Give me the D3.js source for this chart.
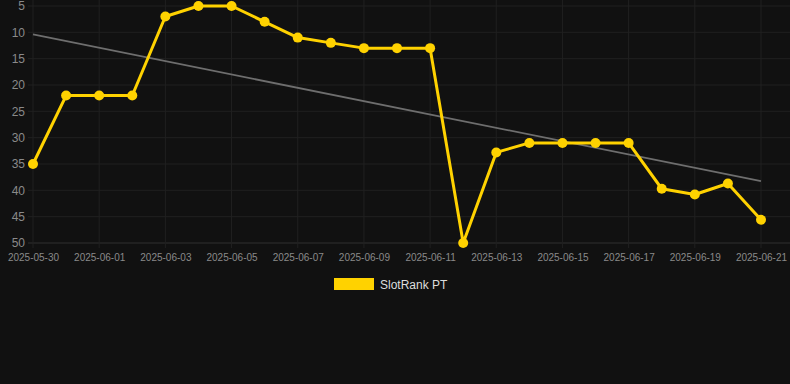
<!DOCTYPE html>
<html>
<head>
<meta charset="utf-8">
<script src="https://cdn.jsdelivr.net/npm/d3@7"></script>
<style>
  html, body { margin: 0; padding: 0; background: #111111; }
  svg { display: block; font-family: "Liberation Sans", Arial, sans-serif; }
</style>
</head>
<body>
<svg id="chart"></svg>
<script>
const dates = [
  "2025-05-30", "2025-05-31", "2025-06-01", "2025-06-02", "2025-06-03", "2025-06-04",
  "2025-06-05", "2025-06-06", "2025-06-07", "2025-06-08", "2025-06-09", "2025-06-10",
  "2025-06-11", "2025-06-12", "2025-06-13", "2025-06-14", "2025-06-15", "2025-06-16",
  "2025-06-17", "2025-06-18", "2025-06-19", "2025-06-20", "2025-06-21"
];
const ranks = [35, 22, 22, 22, 7, 5, 5, 8, 11, 12, 13, 13, 13, 50, 32.8, 31, 31, 31, 31, 39.7, 40.8, 38.7, 45.6];
const yTicks = [5, 10, 15, 20, 25, 30, 35, 40, 45, 50];
const seriesName = "SlotRank PT";

const width = 790;
const height = 384;
const margin = { top: 6, right: 29, bottom: 141, left: 33 };

const parse = d3.utcParse("%Y-%m-%d");
const data = dates.map((d, i) => ({ date: parse(d), y: ranks[i] }));

const svg = d3.select("#chart").attr("width", width).attr("height", height);

const x = d3
  .scaleUtc()
  .domain(d3.extent(data, (d) => d.date))
  .range([margin.left, width - margin.right]);

const y = d3
  .scaleLinear()
  .domain([5, 50])
  .range([margin.top, height - margin.bottom]);

const xTicks = data.filter((d, i) => i % 2 === 0).map((d) => d.date);

// grid
svg
  .append("g")
  .selectAll("line")
  .data(yTicks)
  .join("line")
  .attr("x1", margin.left - 5)
  .attr("x2", width)
  .attr("y1", (d) => y(d))
  .attr("y2", (d) => y(d))
  .attr("stroke", (d) => (d === 50 ? "#303030" : "#202020"))
  .attr("stroke-width", 1);

svg
  .append("g")
  .selectAll("line")
  .data(xTicks)
  .join("line")
  .attr("x1", (d) => x(d))
  .attr("x2", (d) => x(d))
  .attr("y1", 0)
  .attr("y2", height - margin.bottom + 5)
  .attr("stroke", "#202020")
  .attr("stroke-width", 1);

// y axis
const yAxis = svg
  .append("g")
  .attr("transform", `translate(${margin.left - 8},0)`)
  .call(d3.axisLeft(y).tickValues(yTicks).tickSize(0).tickPadding(0));
yAxis.select(".domain").remove();
yAxis.selectAll("text").attr("fill", "#8a8a8a").attr("font-size", 12);

// x axis
const xAxis = svg
  .append("g")
  .attr("transform", `translate(0,${height - margin.bottom})`)
  .call(
    d3.axisBottom(x).tickValues(xTicks).tickFormat(d3.utcFormat("%Y-%m-%d")).tickSize(0).tickPadding(11)
  );
xAxis.select(".domain").remove();
xAxis.selectAll("text").attr("fill", "#8a8a8a").attr("font-size", 10);

// trend line (least squares over the series)
const n = ranks.length;
const xm = d3.mean(ranks, (d, i) => i);
const ym = d3.mean(ranks);
const slope =
  d3.sum(ranks, (d, i) => (i - xm) * (d - ym)) / d3.sum(ranks, (d, i) => (i - xm) * (i - xm));
const icpt = ym - slope * xm;
const trend = [
  { date: data[0].date, y: icpt },
  { date: data[n - 1].date, y: icpt + slope * (n - 1) }
];
svg
  .append("path")
  .datum(trend)
  .attr("fill", "none")
  .attr("stroke", "#6e6e6e")
  .attr("stroke-width", 1.8)
  .attr("d", d3.line().x((d) => x(d.date)).y((d) => y(d.y)));

// series line
svg
  .append("path")
  .datum(data)
  .attr("fill", "none")
  .attr("stroke", "#FFD200")
  .attr("stroke-width", 3)
  .attr("stroke-linejoin", "round")
  .attr("d", d3.line().x((d) => x(d.date)).y((d) => y(d.y)));

svg
  .append("g")
  .selectAll("circle")
  .data(data)
  .join("circle")
  .attr("cx", (d) => x(d.date))
  .attr("cy", (d) => y(d.y))
  .attr("r", 5)
  .attr("fill", "#FFD200");

// legend
const legend = svg.append("g").attr("transform", "translate(334,278)");
legend.append("rect").attr("width", 40).attr("height", 12).attr("fill", "#FFD200");
legend
  .append("text")
  .attr("x", 46)
  .attr("y", 10.5)
  .attr("fill", "#dddddd")
  .attr("font-size", 12)
  .text(seriesName);
</script>
</body>
</html>
